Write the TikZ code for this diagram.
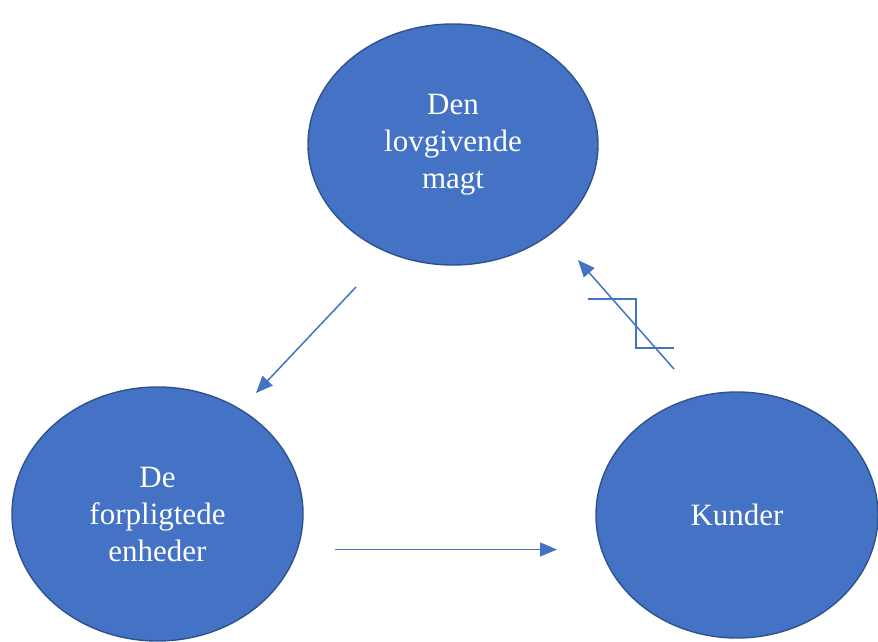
\documentclass[tikz,border=0pt]{standalone}
\usepackage{fontspec}
\setmainfont{Liberation Serif}
\usetikzlibrary{arrows.meta,shapes.geometric}
\definecolor{wordblue}{HTML}{4472C4}
\definecolor{wordedge}{HTML}{2F528F}
\tikzset{
  party/.style={draw=wordedge, fill=wordblue, ellipse, line width=1.4pt, inner sep=0pt, align=center, text=white, font=\fontsize{31}{37}\selectfont},
  flow/.style={-{Triangle[length=17pt,width=14pt]}, draw=wordblue, line width=1.5pt},
  mark line/.style={draw=wordblue, line width=1.6pt},
}

\begin{document}
\begin{tikzpicture}[x=1pt,y=-1pt]
\useasboundingbox (0,0) rectangle (878,642);
% parties
\node[party, minimum width=290pt, minimum height=241pt] (lov) at (453,144.5) {Den\\lovgivende\\magt};
\node[party, minimum width=291pt, minimum height=254pt] (forp) at (157.5,514) {De\\forpligtede\\enheder};
\node[party, minimum width=282pt, minimum height=246pt] (kund) at (737,515) {Kunder};
% arrow ends
\coordinate (lovout) at (356,287);
\coordinate (forpin) at (256,393);
\coordinate (forpout) at (335,549.5);
\coordinate (kundin) at (557,549.5);
\coordinate (kundout) at (674,369);
\coordinate (lovin) at (578,260);
\draw[flow] (lovout) -- (forpin);
\draw[flow] (forpout) -- (kundin);
\draw[flow] (kundout) -- (lovin);
% step mark on the return arrow
\draw[mark line] (588,299) -- (636,299) -- (636,348) -- (674,348);
\end{tikzpicture}
\end{document}
